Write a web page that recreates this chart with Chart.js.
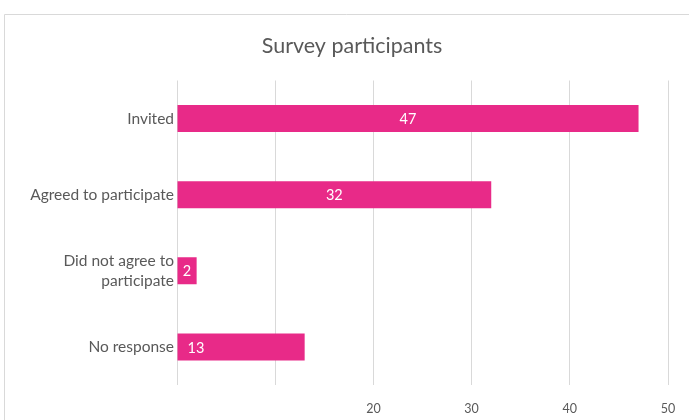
<!DOCTYPE html>
<html>
<head>
<meta charset="utf-8">
<script src="https://cdn.jsdelivr.net/npm/chart.js@4/dist/chart.umd.min.js"></script>
<style>
  html, body { margin: 0; padding: 0; background: #ffffff; }
  #wrap { position: relative; width: 689px; height: 420px; }
</style>
</head>
<body>
<div id="wrap"><canvas id="c" width="689" height="420"></canvas></div>
<script>
const chartTitle = 'Survey participants';
const categories = ['Invited', 'Agreed to participate', ['Did not agree to', 'participate'], 'No response'];
const values = [47, 32, 2, 13];
const labelAnchors = ['center', 'center', 'center', 'start'];
const xTickValues = [0, 10, 20, 30, 40, 50];
const xTickLabelsShown = ['20', '30', '40', '50'];

const FONT = 'Lato, "Open Sans", sans-serif';
const GRAY = '#595959';
const GRID = '#d9d9d9';
const BAR = '#E82A88';

const frame = {
  id: 'frame',
  beforeDraw(chart) {
    const ctx = chart.ctx;
    ctx.save();
    ctx.strokeStyle = GRID;
    ctx.lineWidth = 1;
    ctx.beginPath();
    ctx.moveTo(4.5, 420);
    ctx.lineTo(4.5, 14.5);
    ctx.lineTo(689, 14.5);
    ctx.stroke();
    ctx.restore();
  }
};

// centre the title over the plot frame the way the original does
const titleShift = {
  id: 'titleShift',
  afterLayout(chart) {
    const t = chart.titleBlock;
    if (t) { t.left = 36; t.right = 668; t.width = 632; }
  }
};

const valueLabels = {
  id: 'valueLabels',
  afterDatasetsDraw(chart) {
    const ctx = chart.ctx;
    const meta = chart.getDatasetMeta(0);
    ctx.save();
    ctx.fillStyle = '#ffffff';
    ctx.font = '14.5px ' + FONT;
    ctx.textBaseline = 'middle';
    meta.data.forEach((bar, i) => {
      const p = bar.getProps(['x', 'y', 'base'], true);
      let x;
      if (labelAnchors[i] === 'start') {
        ctx.textAlign = 'left';
        x = p.base + 10;
      } else {
        ctx.textAlign = 'center';
        x = (p.x + p.base) / 2;
      }
      ctx.fillText(String(values[i]), x, p.y + 1);
    });
    ctx.restore();
  }
};

new Chart(document.getElementById('c'), {
  type: 'bar',
  data: {
    labels: categories,
    datasets: [{
      data: values,
      backgroundColor: BAR,
      borderWidth: 0,
      barPercentage: 0.708,
      categoryPercentage: 0.5
    }]
  },
  options: {
    indexAxis: 'y',
    responsive: false,
    animation: false,
    devicePixelRatio: 1,
    layout: { padding: { left: 0, right: 21, top: 0, bottom: 0 } },
    plugins: {
      legend: { display: false },
      tooltip: { enabled: false },
      title: {
        display: true,
        text: chartTitle,
        color: GRAY,
        font: { family: FONT, size: 21.5, weight: 'normal', lineHeight: 1.2 },
        padding: { top: 33.1, bottom: 21.6 }
      }
    },
    scales: {
      x: {
        type: 'linear',
        min: 0,
        max: 50,
        afterBuildTicks(axis) { axis.ticks = xTickValues.map(v => ({ value: v })); },
        afterFit(axis) { axis.height = 35; axis.paddingRight = 0; axis.paddingLeft = 0; },
        ticks: {
          color: GRAY,
          font: { family: FONT, size: 12.5 },
          padding: 16,
          maxRotation: 0,
          callback(v) { return xTickLabelsShown.includes(String(v)) ? String(v) : ''; }
        },
        grid: { color: GRID, drawTicks: false, lineWidth: 1 },
        border: { display: false }
      },
      y: {
        afterFit(axis) { axis.width = 177; },
        ticks: {
          color: GRAY,
          font: { family: FONT, size: 15.5, lineHeight: 1.3 },
          padding: 3
        },
        grid: { display: false, drawTicks: false },
        border: { display: false }
      }
    }
  },
  plugins: [frame, titleShift, valueLabels]
});
</script>
</body>
</html>
